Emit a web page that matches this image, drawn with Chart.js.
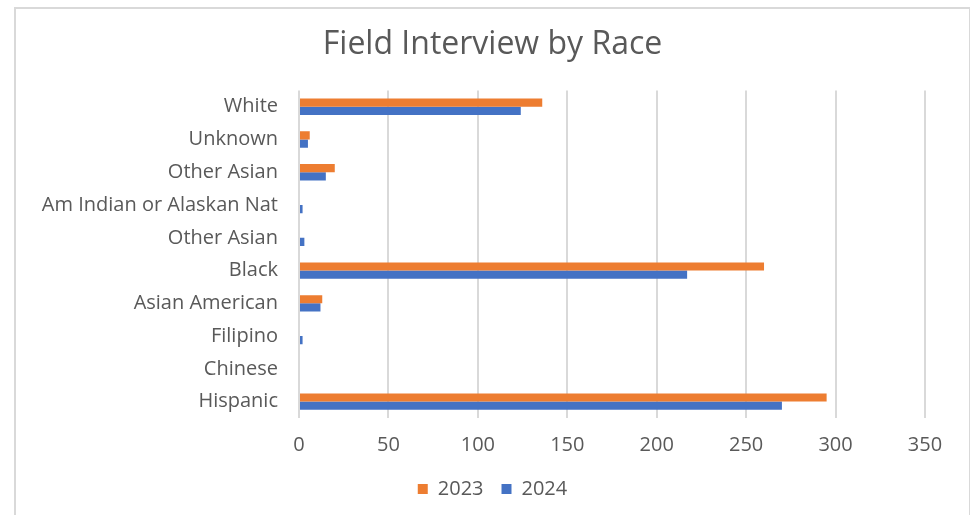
<!DOCTYPE html>
<html>
<head>
<meta charset="utf-8">
<script src="https://cdn.jsdelivr.net/npm/chart.js@4"></script>
<style>
  html, body { margin: 0; padding: 0; background: #fff; overflow: hidden; }
  #box {
    position: absolute; left: 14px; top: 7px;
    width: 953px; height: 520px;
    border: 2px solid #d9d9d9; background: #fff;
  }
  #wrap { position: absolute; left: 0; top: 0; width: 953px; height: 506px; }
</style>
</head>
<body>
<div id="box"><div id="wrap"><canvas id="myChart"></canvas></div></div>
<script>
// Field Interview by Race, horizontal bars 2023 vs 2024

var races = ['White', 'Unknown', 'Other Asian', 'Am Indian or Alaskan Nat', 'Other Asian',
             'Black', 'Asian American', 'Filipino', 'Chinese', 'Hispanic']
var y2023 = [136, 6, 20, 0, 0, 260, 13, 0, 0, 295]
var y2024 = [124, 5, 15, 2, 3, 217, 12, 2, 0, 270]
var xTicks = [0, 50, 100, 150, 200, 250, 300, 350]

var grey = '#595959'
var fam = "'Open Sans', 'DejaVu Sans', sans-serif"

// title + legend centred on the whole frame, not on the padded area
var centerBoxes = {
    id: 'centerBoxes',
    afterLayout: function (chart) {
        [chart.titleBlock, chart.legend].forEach(function (b) {
            if (!b) return
            b.left = 0
            b.right = chart.width
            b.width = chart.width
        })
    }
}

var ctx = document.getElementById('myChart')

new Chart(ctx, {
    type: 'bar',
    data: {
        labels: races,
        datasets: [{
            label: '2023',
            data: y2023,
            backgroundColor: '#ED7D31',
            categoryPercentage: 0.5,
            barPercentage: 1
        }, {
            label: '2024',
            data: y2024,
            backgroundColor: '#4472C4',
            categoryPercentage: 0.5,
            barPercentage: 1
        }]
    },
    plugins: [centerBoxes],
    options: {
        indexAxis: 'y',
        responsive: true,
        maintainAspectRatio: false,
        animation: false,
        layout: { padding: { left: 0, right: 44, top: 0, bottom: 6 } },
        plugins: {
            title: {
                display: true,
                text: 'Field Interview by Race',
                color: grey,
                font: { family: fam, size: 32, weight: 'normal' },
                padding: { top: 17, bottom: 26 }
            },
            legend: {
                position: 'bottom',
                labels: {
                    color: grey,
                    font: { family: fam, size: 20 },
                    boxWidth: 10,
                    boxHeight: 10,
                    padding: 18
                }
            },
            tooltip: { enabled: false }
        },
        scales: {
            x: {
                min: 0,
                max: 350,
                afterBuildTicks: function (s) { s.ticks = xTicks.map(function (v) { return { value: v } }) },
                grid: { color: '#d9d9d9', lineWidth: 2, drawTicks: false },
                border: { display: false },
                ticks: { color: grey, font: { family: fam, size: 20 }, padding: 15 },
                afterFit: function (s) { s.height = 43 }
            },
            y: {
                grid: { display: false, drawTicks: false },
                border: { display: false },
                ticks: { color: grey, font: { family: fam, size: 20 }, padding: 21, autoSkip: false },
                afterFit: function (s) { s.width = 283 }
            }
        }
    }
})
</script>
</body>
</html>
